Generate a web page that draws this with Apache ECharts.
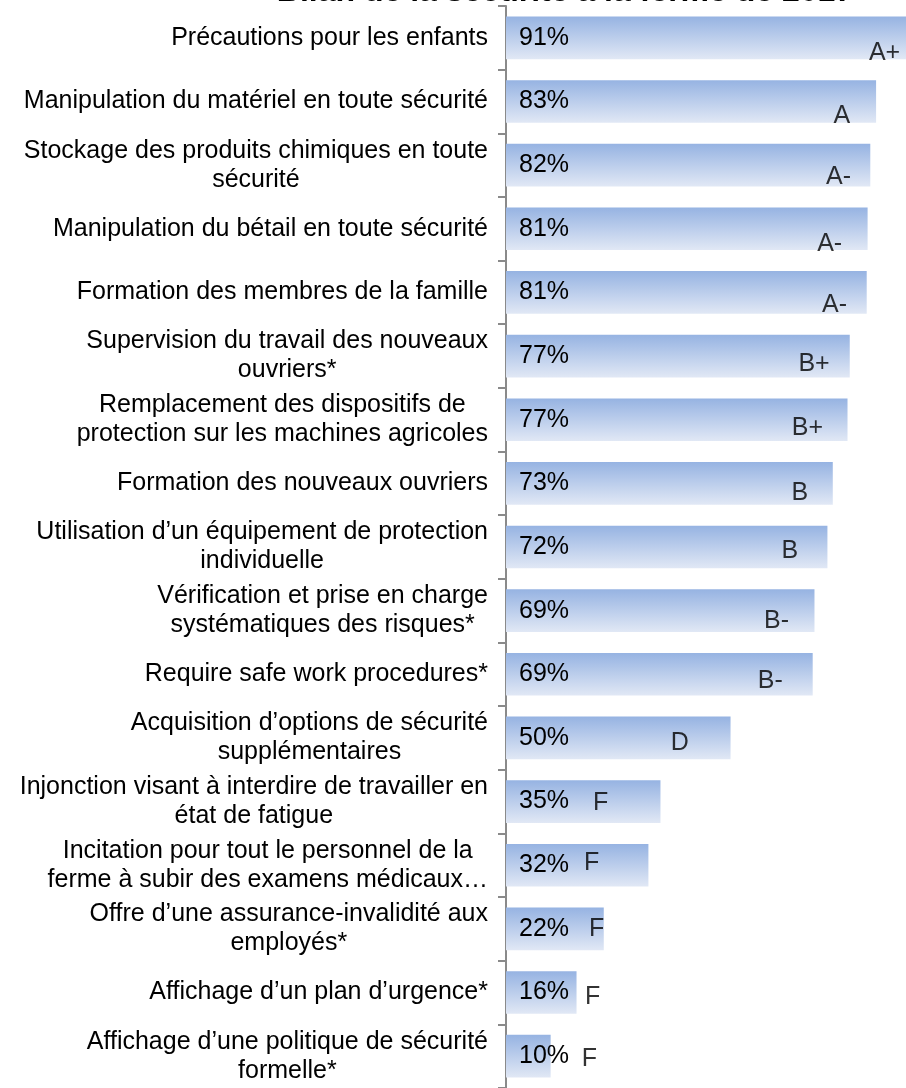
<!DOCTYPE html>
<html>
<head>
<meta charset="utf-8">
<script src="https://cdn.jsdelivr.net/npm/echarts@6/dist/echarts.min.js"></script>
<style>
  html, body { margin: 0; padding: 0; background: #fff; }
  #chart { width: 906px; height: 1088px; }
</style>
</head>
<body>
<div id="chart"></div>
<script>
// Bilan de la sécurité à la ferme de 2017
const categories = [
  'Précautions pour les enfants',
  'Manipulation du matériel en toute sécurité',
  'Stockage des produits chimiques en toute\nsécurité',
  'Manipulation du bétail en toute sécurité',
  'Formation des membres de la famille',
  'Supervision du travail des nouveaux\nouvriers*',
  'Remplacement des dispositifs de\nprotection sur les machines agricoles',
  'Formation des nouveaux ouvriers',
  'Utilisation d’un équipement de protection\nindividuelle',
  'Vérification et prise en charge\nsystématiques des risques*',
  'Require safe work procedures*',
  'Acquisition d’options de sécurité\nsupplémentaires',
  'Injonction visant à interdire de travailler en\nétat de fatigue',
  'Incitation pour tout le personnel de la\nferme à subir des examens médicaux…',
  'Offre d’une assurance-invalidité aux\nemployés*',
  'Affichage d’un plan d’urgence*',
  'Affichage d’une politique de sécurité\nformelle*'
];

// pourcentage (longueur de barre)
const scores = [91, 82.9, 81.6, 81.0, 80.8, 77.0, 76.5, 73.2, 72.0, 69.1, 68.7, 50.3, 34.6, 31.9, 21.9, 15.8, 10.0];

// note et sa position sur l'axe
const grades = ['A+', 'A', 'A-', 'A-', 'A-', 'B+', 'B+', 'B', 'B', 'B-', 'B-', 'D', 'F', 'F', 'F', 'F', 'F'];
const gradePos = [84.8, 75.2, 74.5, 72.5, 73.6, 69.0, 67.5, 65.8, 63.6, 60.6, 59.2, 38.9, 21.2, 19.2, 20.3, 19.4, 18.7];

// the plot runs past the right edge: only ~89.6% fits in the window
const xMax = 89.6;

const font = '"Liberation Sans", Arial, sans-serif';
// décalage vertical des notes (px)
const gradeShift = [15, 15, 12, 15, 13, 8, 8, 10, 4, 10, 7, 5, 2, -2, 0, 5, 3];

const chart = echarts.init(document.getElementById('chart'));

chart.setOption({
  backgroundColor: '#fff',
  animation: false,
  // title is cut by the top edge in the original
  graphic: [
    {
      type: 'text',
      silent: true,
      style: {
        text: 'Bilan de la sécurité à la ferme de 2017',
        x: 565,
        y: 8,
        align: 'center',
        verticalAlign: 'bottom',
        fill: '#000',
        font: 'bold 32px "Liberation Sans", Arial, sans-serif'
      }
    }
  ],
  grid: { left: 506, right: 0, top: 6, bottom: -7 },
  xAxis: { type: 'value', min: 0, max: xMax, show: false },
  yAxis: {
    type: 'category',
    inverse: true,
    data: categories,
    axisLine: { lineStyle: { color: '#8a8a8a', width: 2 } },
    axisTick: { show: true, interval: 0, length: 8, lineStyle: { color: '#8a8a8a', width: 2 } },
    axisLabel: {
      interval: 0,
      margin: 18,
      color: '#000',
      fontFamily: font,
      fontSize: 25,
      lineHeight: 29,
      formatter: (v) => v.split('\n').map((l) => '{c|' + l + '}').join('\n'),
      rich: { c: { align: 'center', fontFamily: font, fontSize: 25, lineHeight: 29, color: '#000' } }
    }
  },
  series: [
    {
      type: 'bar',
      data: scores,
      barCategoryGap: '33%',
      clip: true,
      itemStyle: {
        color: new echarts.graphic.LinearGradient(0, 0, 0, 1, [
          { offset: 0, color: '#96b3e2' },
          { offset: 1, color: '#e1e8f5' }
        ])
      },
      label: {
        show: true,
        position: 'insideLeft',
        distance: 13,
        color: '#000',
        fontFamily: font,
        fontSize: 25,
        formatter: (p) => Math.round(p.value) + '%'
      }
    },
    {
      type: 'scatter',
      symbolSize: 0,
      silent: true,
      data: gradePos.map((x, i) => ({
        value: [x, i],
        label: { offset: [0, gradeShift[i]] }
      })),
      label: {
        show: true,
        position: 'inside',
        color: '#000',
        fontFamily: font,
        fontSize: 25,
        formatter: (p) => grades[p.dataIndex]
      }
    }
  ]
});
</script>
</body>
</html>
